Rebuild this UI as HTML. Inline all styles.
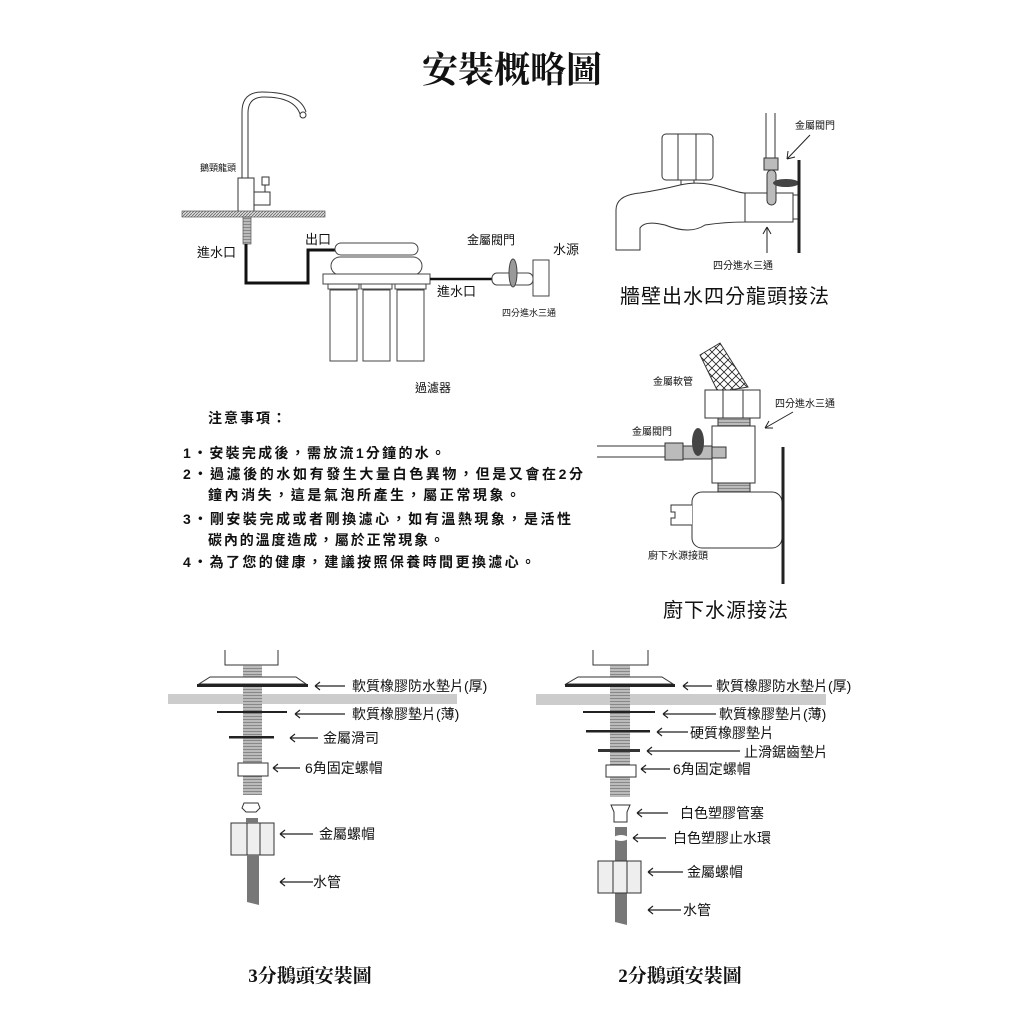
<!DOCTYPE html>
<html><head><meta charset="utf-8"><style>
html,body{margin:0;padding:0;background:#fff}
svg{display:block}
text{font-family:"Liberation Sans","Noto Sans CJK TC",sans-serif;fill:#111}
.s{font-family:"Liberation Serif","Noto Serif CJK SC",serif;font-weight:bold}
.b{font-weight:bold}
</style></head><body>
<svg width="1024" height="1024" viewBox="0 0 1024 1024" xmlns="http://www.w3.org/2000/svg">
<defs>
<pattern id="hatch" width="3" height="3" patternUnits="userSpaceOnUse"><rect width="3" height="3" fill="#ddd"/><path d="M0 3L3 0" stroke="#666" stroke-width="0.8"/></pattern>
<pattern id="thr" width="4" height="3" patternUnits="userSpaceOnUse"><rect width="4" height="3" fill="#bbb"/><rect y="2" width="4" height="1" fill="#888"/></pattern>
<pattern id="mesh" width="8" height="8" patternUnits="userSpaceOnUse"><path d="M0 0L8 8M8 0L0 8" stroke="#222" stroke-width="0.8"/></pattern>
</defs>
<text class="s" x="512" y="82" font-size="36" text-anchor="middle">安裝概略圖</text>

<g fill="none" stroke="#333" stroke-width="1">
<path d="M242 212 L242 112 Q242 92 262 92 Q300 92 306 112"/>
<path d="M248 212 L248 113 Q248 97 264 97 Q294 97 300 114"/>
<circle cx="303" cy="115" r="3" fill="#fff"/>
<rect x="238" y="178" width="16" height="34" fill="#fff"/>
<rect x="254" y="192" width="16" height="13" fill="#fff"/>
<rect x="262" y="177" width="7" height="8" fill="#fff"/>
<line x1="265" y1="185" x2="265" y2="192"/>
</g>
<rect x="182" y="211" width="143" height="6" fill="url(#hatch)" stroke="#555" stroke-width="0.7"/>
<rect x="243" y="217" width="8" height="27" fill="url(#thr)" stroke="#555" stroke-width="0.7"/>
<path d="M246 244 L246 283 L308 283 L308 250 L335 250" fill="none" stroke="#111" stroke-width="3"/>
<text x="200" y="171" font-size="9" fill="#444">鵝頸龍頭</text>
<text x="197" y="257" font-size="13">進水口</text>
<text x="305" y="244" font-size="13">出口</text>

<g stroke="#444" stroke-width="1" fill="#fff">
<rect x="335" y="243" width="83" height="12" rx="6"/>
<rect x="331" y="257" width="91" height="18" rx="9"/>
<rect x="323" y="274" width="107" height="10"/>
<rect x="328" y="284" width="31" height="5"/><rect x="361" y="284" width="31" height="5"/><rect x="395" y="284" width="31" height="5"/>
<rect x="330" y="290" width="27" height="71"/><rect x="363" y="290" width="27" height="71"/><rect x="397" y="290" width="27" height="71"/>
</g>
<line x1="430" y1="279" x2="492" y2="279" stroke="#111" stroke-width="2.5"/>
<g stroke="#444" stroke-width="1" fill="#fff">
<rect x="492" y="273" width="41" height="12" rx="5"/>
<ellipse cx="513" cy="273" rx="4" ry="14" fill="#999"/>
<rect x="533" y="260" width="16" height="36"/>
</g>
<text x="467" y="244" font-size="12">金屬閥門</text>
<text x="553" y="254" font-size="13">水源</text>
<text x="437" y="296" font-size="13">進水口</text>
<text x="502" y="316" font-size="9">四分進水三通</text>
<text x="415" y="392" font-size="12">過濾器</text>

<text class="b" x="208" y="423" font-size="14" letter-spacing="2">注意事項：</text>
<g font-size="14">
<text class="b" x="183" y="458" textLength="262" lengthAdjust="spacing">1・安裝完成後，需放流1分鐘的水。</text>
<text class="b" x="183" y="479" textLength="400" lengthAdjust="spacing">2・過濾後的水如有發生大量白色異物，但是又會在2分</text>
<text class="b" x="208" y="500" textLength="312" lengthAdjust="spacing">鐘內消失，這是氣泡所產生，屬正常現象。</text>
<text class="b" x="183" y="524" textLength="388" lengthAdjust="spacing">3・剛安裝完成或者剛換濾心，如有溫熱現象，是活性</text>
<text class="b" x="208" y="545" textLength="236" lengthAdjust="spacing">碳內的溫度造成，屬於正常現象。</text>
<text class="b" x="183" y="567" textLength="352" lengthAdjust="spacing">4・為了您的健康，建議按照保養時間更換濾心。</text>
</g>

<g stroke="#333" stroke-width="1" fill="#fff">
<rect x="662" y="134" width="51" height="46" rx="4"/>
<line x1="678" y1="134" x2="678" y2="180"/><line x1="696" y1="134" x2="696" y2="180"/>
<rect x="681" y="180" width="13" height="6"/>
<path d="M616 250 L616 210 Q616 195 640 193 Q660 190 680 185 Q700 180 725 188 Q740 193 745 193 L745 222 Q725 222 705 225 Q690 235 665 225 Q645 220 640 228 L640 250 Z"/>
<rect x="745" y="193" width="48" height="29"/>
<rect x="793" y="195" width="6" height="24"/>
<line x1="766" y1="113" x2="766" y2="158"/><line x1="775" y1="113" x2="775" y2="158"/>
<rect x="764" y="158" width="14" height="12" fill="#bbb"/>
<rect x="767" y="170" width="9" height="35" rx="4.5" fill="#bbb"/>
</g>
<ellipse cx="786" cy="183" rx="13" ry="4" fill="#444"/>
<line x1="799" y1="160" x2="799" y2="253" stroke="#222" stroke-width="3"/>
<text x="795" y="129" font-size="10">金屬閥門</text>
<g stroke="#222" stroke-width="1" fill="none">
<path d="M810 135 L787 159 M787 159 L788 151 M787 159 L795 157"/>
<path d="M767 253 L767 227 M767 227 L763 234 M767 227 L771 234"/>
</g>
<text x="713" y="269" font-size="10">四分進水三通</text>
<text x="620" y="303" font-size="20" letter-spacing="1">牆壁出水四分龍頭接法</text>

<g stroke="#333" stroke-width="1" fill="#fff">
<path d="M700 355 L720 343 L748 387 L718 392 Z" fill="url(#mesh)"/>
<rect x="705" y="390" width="55" height="28"/>
<line x1="723" y1="390" x2="723" y2="418"/><line x1="743" y1="390" x2="743" y2="418"/>
<rect x="718" y="418" width="32" height="8" fill="url(#thr)"/>
<rect x="712" y="426" width="43" height="57"/>
<rect x="718" y="483" width="32" height="9" fill="url(#thr)"/>
<rect x="692" y="492" width="90" height="56" rx="10"/>
<path d="M692 505 L671 505 L671 512 L675 512 L675 518 L671 518 L671 525 L692 525"/>
<line x1="597" y1="446" x2="665" y2="446"/><line x1="597" y1="457" x2="665" y2="457"/>
<rect x="665" y="443" width="18" height="17" fill="#bbb"/>
<rect x="683" y="446" width="29" height="13" fill="#bbb"/>
<rect x="712" y="447" width="14" height="11" fill="#bbb"/>
</g>
<ellipse cx="698" cy="442" rx="6" ry="14" fill="#444"/>
<line x1="783" y1="447" x2="783" y2="584" stroke="#222" stroke-width="3"/>
<text x="653" y="385" font-size="10">金屬軟管</text>
<text x="775" y="407" font-size="10">四分進水三通</text>
<path d="M793 412 L765 428 M765 428 L769 421 M765 428 L773 428" stroke="#222" fill="none"/>
<text x="632" y="435" font-size="10">金屬閥門</text>
<text x="648" y="559" font-size="10">廚下水源接頭</text>
<text x="663" y="617" font-size="20" letter-spacing="1">廚下水源接法</text>

<g stroke="#333" stroke-width="1" fill="#fff">
<path d="M225 650 L225 665 L278 665 L278 650"/>
<rect x="243" y="665" width="19" height="130" fill="url(#thr)" stroke="none"/>
<path d="M210 677 L296 677 L306 684 L199 684 Z"/>
<rect x="238" y="763" width="30" height="13"/>
<path d="M244 803 L258 803 L260 808 L256 812 L246 812 L242 808 Z"/>
<rect x="231" y="823" width="43" height="32" fill="#eee"/>
<line x1="247" y1="823" x2="247" y2="855"/><line x1="260" y1="823" x2="260" y2="855"/>
</g>
<rect x="168" y="694" width="289" height="10" fill="#ccc"/>
<rect x="243" y="694" width="19" height="10" fill="url(#thr)"/>
<rect x="197" y="684" width="111" height="3" fill="#222"/>
<rect x="217" y="711" width="70" height="2" fill="#222"/>
<rect x="229" y="736" width="45" height="2.5" fill="#222"/>
<rect x="246" y="818" width="12" height="5" fill="#777"/>
<path d="M247 855 L259 855 L259 905 L247 902 Z" fill="#777"/>

<g stroke="#333" stroke-width="1" fill="#fff">
<path d="M593 650 L593 665 L648 665 L648 650"/>
<rect x="610" y="665" width="20" height="132" fill="url(#thr)" stroke="none"/>
<path d="M578 677 L662 677 L673 684 L566 684 Z"/>
<rect x="606" y="765" width="30" height="12"/>
<path d="M611 805 L630 805 L627 812 L627 822 L614 822 L614 812 Z"/>
</g>
<rect x="536" y="694" width="290" height="11" fill="#ccc"/>
<rect x="610" y="694" width="20" height="11" fill="url(#thr)"/>
<rect x="565" y="684" width="110" height="3" fill="#222"/>
<rect x="583" y="711" width="72" height="2" fill="#222"/>
<rect x="586" y="730" width="64" height="2.5" fill="#222"/>
<rect x="598" y="749" width="42" height="3" fill="#333"/>
<path d="M615 827 L627 827 L627 925 L615 922 Z" fill="#777"/>
<ellipse cx="621" cy="838" rx="7" ry="3" fill="#fff"/>
<rect x="598" y="861" width="43" height="32" fill="#eee" stroke="#333"/>
<line x1="613" y1="861" x2="613" y2="893" stroke="#333"/><line x1="627" y1="861" x2="627" y2="893" stroke="#333"/>

<g stroke="#222" stroke-width="1.2" fill="none">
<path d="M315 686 H345 M315 686 l5 -4 M315 686 l5 4"/>
<path d="M295 714 H345 M295 714 l5 -4 M295 714 l5 4"/>
<path d="M290 738 H318 M290 738 l5 -4 M290 738 l5 4"/>
<path d="M273 768 H300 M273 768 l5 -4 M273 768 l5 4"/>
<path d="M280 834 H313 M280 834 l5 -4 M280 834 l5 4"/>
<path d="M280 882 H313 M280 882 l5 -4 M280 882 l5 4"/>
<path d="M683 686 H712 M683 686 l5 -4 M683 686 l5 4"/>
<path d="M663 714 H716 M663 714 l5 -4 M663 714 l5 4"/>
<path d="M657 732 H688 M657 732 l5 -4 M657 732 l5 4"/>
<path d="M647 751 H740 M647 751 l5 -4 M647 751 l5 4"/>
<path d="M641 769 H670 M641 769 l5 -4 M641 769 l5 4"/>
<path d="M637 813 H668 M637 813 l5 -4 M637 813 l5 4"/>
<path d="M633 838 H666 M633 838 l5 -4 M633 838 l5 4"/>
<path d="M648 872 H683 M648 872 l5 -4 M648 872 l5 4"/>
<path d="M648 910 H681 M648 910 l5 -4 M648 910 l5 4"/>
</g>
<g font-size="14">
<text x="352" y="691">軟質橡膠防水墊片(厚)</text>
<text x="352" y="719">軟質橡膠墊片(薄)</text>
<text x="323" y="743">金屬滑司</text>
<text x="305" y="773">6角固定螺帽</text>
<text x="319" y="839">金屬螺帽</text>
<text x="313" y="887">水管</text>
<text x="716" y="691">軟質橡膠防水墊片(厚)</text>
<text x="719" y="719">軟質橡膠墊片(薄)</text>
<text x="690" y="738">硬質橡膠墊片</text>
<text x="744" y="757">止滑鋸齒墊片</text>
<text x="673" y="774">6角固定螺帽</text>
<text x="680" y="818">白色塑膠管塞</text>
<text x="673" y="843">白色塑膠止水環</text>
<text x="687" y="877">金屬螺帽</text>
<text x="683" y="915">水管</text>
</g>
<text class="s" x="310" y="982" font-size="19" text-anchor="middle" fill="#333">3分鵝頭安裝圖</text>
<text class="s" x="680" y="982" font-size="19" text-anchor="middle" fill="#333">2分鵝頭安裝圖</text>
</svg>
</body></html>
